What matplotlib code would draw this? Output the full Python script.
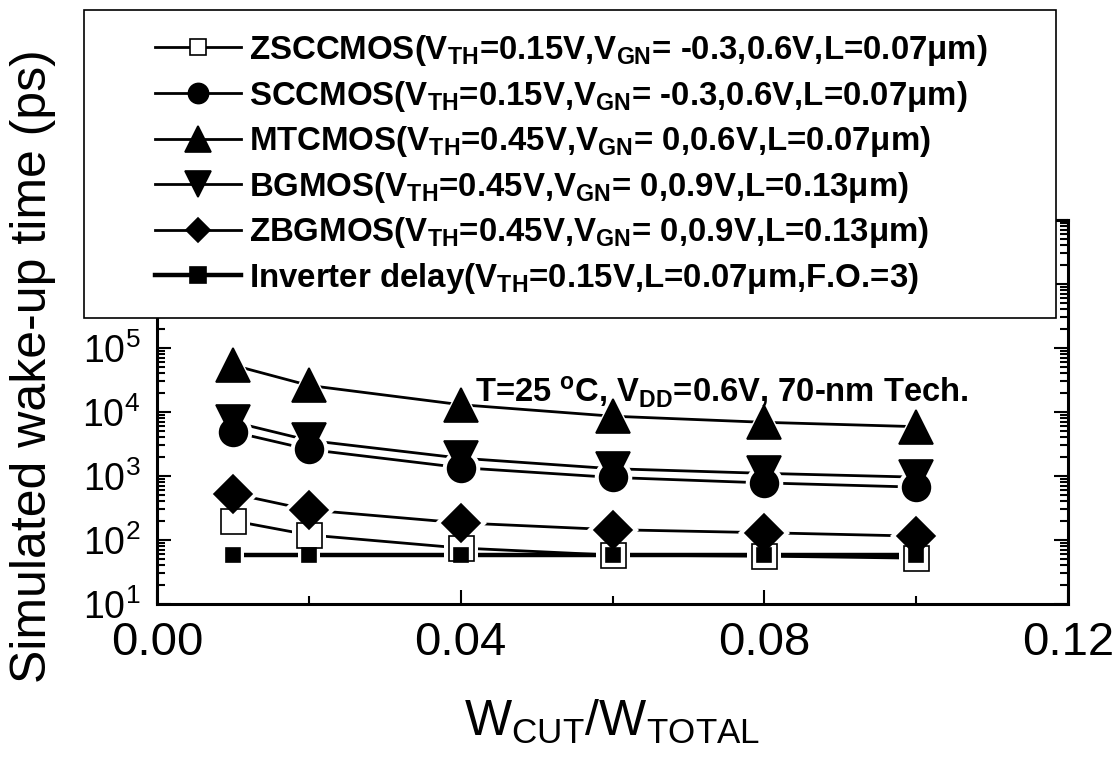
import matplotlib
matplotlib.use("Agg")
import matplotlib.pyplot as plt
from matplotlib.lines import Line2D
from matplotlib.patches import Rectangle
from matplotlib.ticker import MultipleLocator, LogLocator, NullFormatter

plt.rcParams["font.family"] = ["Liberation Sans", "DejaVu Sans"]
plt.rcParams["mathtext.default"] = "regular"

# data (ps)
w_ratio = [0.01, 0.02, 0.04, 0.06, 0.08, 0.10]
zsccmos = [200, 120, 75, 58, 56, 52]
sccmos = [4900, 2600, 1350, 950, 780, 670]
mtcmos = [54000, 26000, 13000, 8600, 6900, 5900]
bgmos = [7000, 3600, 1900, 1300, 1100, 960]
zbgmos = [530, 295, 185, 145, 130, 115]
inverter = [58, 58, 58, 58, 58, 58]

labels = [
    "ZSCCMOS($V_{TH}$=0.15V,$V_{GN}$= -0.3,0.6V,L=0.07\u03bcm)",
    "SCCMOS($V_{TH}$=0.15V,$V_{GN}$= -0.3,0.6V,L=0.07\u03bcm)",
    "MTCMOS($V_{TH}$=0.45V,$V_{GN}$= 0,0.6V,L=0.07\u03bcm)",
    "BGMOS($V_{TH}$=0.45V,$V_{GN}$= 0,0.9V,L=0.13\u03bcm)",
    "ZBGMOS($V_{TH}$=0.45V,$V_{GN}$= 0,0.9V,L=0.13\u03bcm)",
    "Inverter delay($V_{TH}$=0.15V,L=0.07\u03bcm,F.O.=3)",
]
values = [zsccmos, sccmos, mtcmos, bgmos, zbgmos, inverter]

# marker, plot size, legend size, face colour, line width
styles = [
    ("s", 18, 12, "white", 2.0),
    ("o", 20, 14.5, "black", 2.0),
    ("^", 24, 19, "black", 2.0),
    ("v", 24, 19, "black", 2.0),
    ("D", 19, 12, "black", 2.0),
    ("s", 9.5, 12, "black", 3.2),
]

W, H = 1117, 759
fig = plt.figure(figsize=(W / 100, H / 100), dpi=100)
ax = fig.add_axes([157 / W, 1 - 604 / H, (1068 - 157) / W, (604 - 220) / H])

# lines first, then white halos so the lines stop short of the symbols, then symbols
for vals, (mk, ms, lms, fc, lw) in zip(values, styles):
    ax.plot(w_ratio, vals, color="black", lw=lw, zorder=2)
for vals, (mk, ms, lms, fc, lw) in zip(values, styles):
    ax.plot(w_ratio, vals, ls="none", marker=mk, ms=ms + 7, mfc="white", mec="white", mew=0, zorder=3)
for vals, (mk, ms, lms, fc, lw) in zip(values, styles):
    ax.plot(w_ratio, vals, ls="none", marker=mk, ms=ms, mfc=fc, mec="black", mew=1.2, zorder=4)

ax.set_yscale("log")
ax.set_xlim(0, 0.12)
ax.set_ylim(10, 1e7)
ax.xaxis.set_major_locator(MultipleLocator(0.04))
ax.xaxis.set_minor_locator(MultipleLocator(0.02))
ax.xaxis.set_major_formatter(plt.FormatStrFormatter("%.2f"))
ax.yaxis.set_major_locator(LogLocator(base=10, numticks=20))
ax.yaxis.set_minor_locator(LogLocator(base=10, subs=range(2, 10), numticks=20))
ax.yaxis.set_minor_formatter(NullFormatter())

ax.tick_params(which="both", direction="in", top=True, right=True, width=1.5)
ax.tick_params(which="major", length=10)
ax.tick_params(which="minor", length=6)
ax.tick_params(axis="x", labelsize=34, pad=12)
ax.tick_params(axis="y", labelsize=27, pad=12)
for sp in ax.spines.values():
    sp.set_linewidth(2.2)

ax.set_xlabel("$W_{CUT}$/$W_{TOTAL}$", fontsize=36, labelpad=24)
ax.set_ylabel("Simulated wake-up time (ps)", fontsize=36)
ax.yaxis.set_label_coords(-0.111, 0.62)

ax.text(0.349, 0.526, "T=25 $^{o}$C, $V_{DD}$=0.6V, 70-nm Tech.",
        transform=ax.transAxes, fontsize=23.6, fontweight="bold", va="baseline")

# legend box sits over the top of the axes
fig.add_artist(Rectangle((84 / W, 1 - 318 / H), (1056 - 84) / W, (318 - 10) / H,
                         transform=fig.transFigure, facecolor="white",
                         edgecolor="black", lw=1.2, zorder=5))
handles = [Line2D([], [], color="black", lw=lw, marker=mk, ms=lms, mfc=fc, mec="black", mew=1.2)
           for (mk, ms, lms, fc, lw) in styles]
leg = fig.legend(handles, labels, loc="upper left", bbox_to_anchor=(155 / W, 1 - 33 / H),
                 frameon=False, prop=dict(weight="bold", size=23.8), handlelength=2.6,
                 handletextpad=0.25, labelspacing=0.32, borderpad=0, borderaxespad=0)
leg.set_zorder(6)

fig.savefig("out.png", dpi=100)
